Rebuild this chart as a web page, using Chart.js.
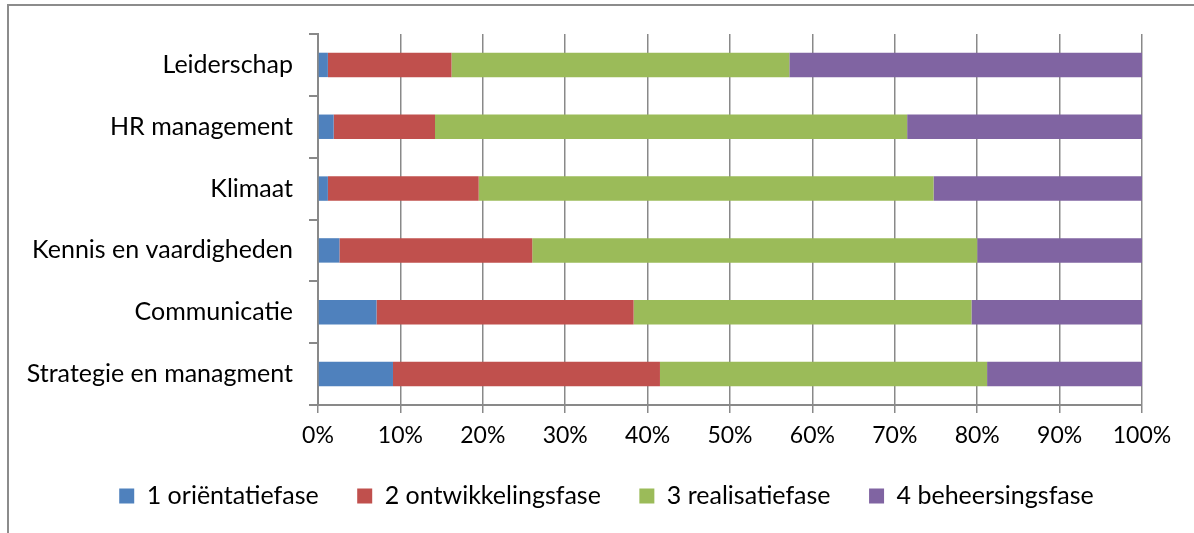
<!DOCTYPE html>
<html>
<head>
<meta charset="utf-8">
<script src="https://cdn.jsdelivr.net/npm/chart.js@4"></script>
<style>
  html, body { margin: 0; padding: 0; background: #ffffff; }
  #wrap { width: 1194px; height: 533px; position: relative; }
</style>
</head>
<body>
<div id="wrap"><canvas id="c" width="1194" height="533"></canvas></div>
<script>
const categories = ['Leiderschap', 'HR management', 'Klimaat', 'Kennis en vaardigheden', 'Communicatie', 'Strategie en managment'];
const seriesNames = ['1 oriëntatiefase', '2 ontwikkelingsfase', '3 realisatiefase', '4 beheersingsfase'];
const orientatie = [1.2, 1.9, 1.2, 2.6, 7.1, 9.1];
const ontwikkeling = [15.0, 12.3, 18.3, 23.4, 31.2, 32.4];
const realisatie = [41.0, 57.3, 55.2, 54.0, 41.0, 39.7];
const beheersing = [42.8, 28.5, 25.3, 20.0, 20.7, 18.8];
const tickValues = [0, 10, 20, 30, 40, 50, 60, 70, 80, 90, 100];

const colors = ['#4F81BD', '#C0504D', '#9BBB59', '#8064A2'];
const gridColor = '#898989';
const FONT = 'Lato, "Open Sans", sans-serif';

const frame = {
  id: 'frame',
  beforeDraw(chart) {
    const ctx = chart.ctx;
    ctx.save();
    ctx.fillStyle = '#ffffff';
    ctx.fillRect(0, 0, chart.width, chart.height);
    ctx.strokeStyle = '#8c8c8c';
    ctx.lineWidth = 2;
    ctx.beginPath();
    ctx.moveTo(1194, 5);
    ctx.lineTo(8, 5);
    ctx.lineTo(8, 533);
    ctx.stroke();
    ctx.restore();
  }
};

// move the legend so that it sits where the reference places it
const legendShift = {
  id: 'legendShift',
  afterUpdate(chart) {
    const lg = chart.legend;
    if (!lg) return;
    lg.left += 35.5;
    lg.right += 35.5;
    lg.top -= 5;
    lg.bottom -= 5;
    lg.adjustHitBoxes();
  }
};

const allSeries = [orientatie, ontwikkeling, realisatie, beheersing];

new Chart(document.getElementById('c'), {
  type: 'bar',
  data: {
    labels: categories,
    datasets: allSeries.map((d, i) => ({
      label: seriesNames[i],
      data: d,
      backgroundColor: colors[i],
      borderWidth: 0,
      barPercentage: 0.395,
      categoryPercentage: 1.0
    }))
  },
  options: {
    indexAxis: 'y',
    responsive: false,
    animation: false,
    events: [],
    layout: { padding: { top: 34, left: 0, right: 52, bottom: 9.5 } },
    scales: {
      x: {
        stacked: true,
        min: 0,
        max: 100,
        afterBuildTicks: (scale) => { scale.ticks = tickValues.map(v => ({ value: v })); },
        afterFit: (scale) => { scale.height = 45; },
        ticks: {
          color: '#000000',
          font: { family: FONT, size: 23 },
          padding: 9,
          maxRotation: 0,
          callback: (v) => v + '%'
        },
        grid: { color: gridColor, lineWidth: 1.5, drawTicks: true, tickLength: 8 },
        border: { display: true, color: gridColor, width: 2 }
      },
      y: {
        stacked: true,
        afterFit: (scale) => { scale.width = 318; },
        ticks: {
          color: '#000000',
          font: { family: FONT, size: 25 },
          padding: 16
        },
        grid: { display: true, drawOnChartArea: false, drawTicks: true, tickLength: 9, color: gridColor, lineWidth: 2, offset: true },
        border: { display: true, color: gridColor, width: 2 }
      }
    },
    plugins: {
      legend: {
        position: 'bottom',
        labels: {
          color: '#000000',
          font: { family: FONT, size: 25 },
          boxWidth: 15,
          boxHeight: 15,
          padding: 38.5
        }
      },
      tooltip: { enabled: false }
    }
  },
  plugins: [frame, legendShift]
});
</script>
</body>
</html>
